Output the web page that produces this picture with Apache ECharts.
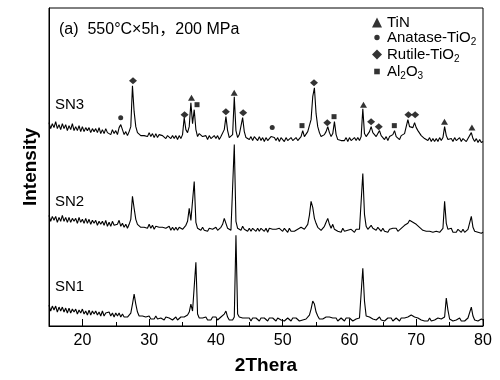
<!DOCTYPE html>
<html><head><meta charset="utf-8">
<script src="https://cdn.jsdelivr.net/npm/echarts@6/dist/echarts.min.js"></script>
<style>html,body{margin:0;padding:0;background:#fff}#c{width:500px;height:380px}</style>
</head><body><div id="c"></div>
<script>
// 2-theta scan grid: 15..80 deg, step 0.25
const START = 15, STEP = 0.25;
// Intensities (a.u., traces already stacked with their offsets)
const sn3 = [
204,198,203,199, 205,198,202,197, 203,198,202,196, 201,197,203,196, 200,196,201,195,
200,195,199,196, 199,194,198,195, 198,194,199,193, 197,193,198,194, 196,192,197,193,
196,192,199,202, 197,192,195,191, 195,200,241,215, 200,194,194,191, 193,191,193,190,
194,190,193,189, 193,189,192,190, 191,190,188,191, 192,188,191,188, 191,187,191,188,
192,209,197,194, 200,224,203,217, 197,190,193,194, 190,188,191,187, 191,188,189,191,
188,191,187,190, 192,197,210,196, 189,188,192,230, 196,189,192,194, 209,195,189,190,
187,190,186,190, 189,186,190,186, 189,185,189,186, 186,190,192,189, 186,189,185,189,
188,185,189,186, 185,189,186,185, 189,186,188,190, 196,190,191,195, 197,207,230,239,
213,200,194,190, 191,192,195,200, 194,190,193,205, 192,187,188,186, 188,186,189,185,
189,186,185,189, 186,189,186,190, 218,193,190,192, 195,200,194,192, 190,193,196,191,
189,187,190,186, 190,188,192,196, 190,188,187,191, 190,193,195,207, 200,201,199,204,
199,196,194,191, 190,188,189,186, 189,185,188,185, 188,185,189,186, 189,200,191,187,
185,188,185,189, 186,185,189,185, 188,189,185,188, 187,194,188,185, 188,184,187,184,
185];
const sn2 = [
111,105,110,106, 110,104,109,105, 111,105,109,104, 109,104,108,105, 108,103,109,104,
107,103,108,103, 107,102,106,103, 106,101,105,102, 105,101,106,100, 104,100,105,101,
103,102,106,100, 103,99,102,98, 102,107,130,118, 107,102,101,99, 101,99,100,98,
102,98,101,97, 100,98,99,98, 99,97,98,96, 100,96,99,96, 99,96,99,97,
97,99,101,105, 118,106,104,145, 104,98,99,96, 99,96,98,95, 98,96,97,95,
99,96,98,99, 102,108,103,98, 97,96,98,182, 105,98,99,96, 100,97,98,95,
98,95,98,96, 95,98,95,98, 97,95,98,94, 98,96,97,95, 97,95,98,96,
95,98,96,94, 98,95,97,95, 94,97,96,99, 101,97,98,102, 111,125,119,108,
103,99,98,96, 98,100,104,108, 102,98,102,97, 98,95,96,94, 98,95,97,96,
94,97,96,94, 97,95,97,96, 153,112,100,97, 99,101,98,99, 96,99,97,95,
98,95,96,94, 97,95,98,96, 98,95,97,98, 99,101,101,103, 106,107,104,105,
102,101,99,98, 96,98,95,97, 95,97,94,96, 95,97,94,96, 98,125,103,97,
95,98,94,96, 94,97,95,94, 97,94,96,97, 98,110,99,95, 96,94,95,93,
94];
const sn1 = [
21,15,20,16, 20,14,19,15, 19,14,18,13, 18,13,17,14, 17,12,16,13,
17,12,15,11, 16,11,15,12, 15,11,14,10, 15,10,13,11, 14,10,13,9,
13,10,13,9, 12,9,11,9, 11,13,22,32, 22,14,10,9, 10,8,9,7,
10,7,9,7, 10,7,9,8, 9,6,9,7, 8,9,6,8, 9,6,8,9,
7,9,10,11, 14,22,15,13, 64,12,8,9, 8,6,9,6, 8,6,9,7,
9,6,8,9, 10,12,15,9, 6,8,6,9, 91,12,9,7, 8,6,8,6,
8,5,8,6, 8,6,5,8, 6,8,6,5, 8,6,8,6, 5,8,7,6,
8,5,7,8, 6,5,8,6, 8,6,5,7, 6,8,7,9, 11,17,25,22,
14,10,7,8, 7,8,9,11, 9,7,8,6, 8,5,7,8, 6,5,8,6,
8,6,5,7, 7,5,8,9, 58,25,10,8, 9,10,7,8, 6,8,9,6,
8,5,7,8, 6,8,5,7, 8,6,5,8, 6,8,8,9, 10,11,10,9,
10,8,9,6, 8,5,7,5, 8,5,7,6, 5,8,6,7, 8,9,28,16,
7,8,5,7, 6,5,8,5, 7,5,7,8, 9,19,10,6, 7,5,6,7,
6];
// phase marks [2theta, height]
const tinMarks = [[36.34,229],[42.74,234],[62.1,222],[74.23,205],[78.34,199]];
const anataseMarks = [[25.74,209],[48.43,199]];
const rutileMarks = [[27.58,246],[35.3,212],[41.49,215],[44.08,214],[54.69,244],[56.68,204],[63.24,205],[64.39,200],[68.83,212],[69.84,212]];
const aluminaMarks = [[37.17,222],[52.89,201],[57.69,210],[66.72,201]];
const majorTicks = [20,30,40,50,60,70,80];
const minorTicks = [25,35,45,55,65,75];

const FONT = '"Liberation Sans", Arial, "Noto Sans CJK SC", sans-serif';
const toPairs = arr => arr.map((v, i) => [START + i * STEP, v]);
const lineSeries = (name, arr) => ({
  name, type: 'line', data: toPairs(arr), showSymbol: false, symbol: 'none',
  lineStyle: { color: '#000', width: 1.1 }, silent: true, z: 2
});
const markSeries = (name, data, symbol, size) => ({
  name, type: 'scatter', data, symbol, symbolSize: size,
  itemStyle: { color: '#000' }, silent: true, z: 3
});
const legendText = {
  'TiN': '{m|TiN}',
  'Anatase-TiO2': '{m|Anatase-TiO}{s|2}',
  'Rutile-TiO2': '{m|Rutile-TiO}{s|2}',
  'Al2O3': '{m|Al}{s|2}{m|O}{s|3}'
};

const chart = echarts.init(document.getElementById('c'), null, { renderer: 'canvas' });
chart.setOption({
  animation: false,
  backgroundColor: '#fff',
  title: {
    text: '(a)  550°C×5h，200 MPa', left: 59, top: 22, padding: 0,
    textStyle: { fontSize: 16, fontWeight: 'normal', color: '#000', fontFamily: FONT }
  },
  legend: {
    orient: 'vertical', left: 372, top: 15, padding: 0, itemGap: 0,
    itemWidth: 10, itemHeight: 10, selectedMode: false,
    data: [
      { name: 'TiN', icon: 'triangle' },
      { name: 'Anatase-TiO2', icon: 'path://M0,0M10,10M2.3,5A2.7,2.7,0,1,0,7.7,5A2.7,2.7,0,1,0,2.3,5Z' },
      { name: 'Rutile-TiO2', icon: 'diamond' },
      { name: 'Al2O3', icon: 'path://M0,0M10,10M2.2,2.2L7.8,2.2L7.8,7.8L2.2,7.8Z' }
    ],
    formatter: n => legendText[n],
    textStyle: {
      color: '#000', fontFamily: FONT,
      rich: {
        m: { fontSize: 15, lineHeight: 19, color: '#000', fontFamily: FONT },
        s: { fontSize: 10, lineHeight: 8, verticalAlign: 'bottom', color: '#000', fontFamily: FONT }
      }
    }
  },
  grid: { left: 49, right: 17, top: 8, bottom: 53, show: true, borderColor: '#000', borderWidth: 1, backgroundColor: 'transparent' },
  xAxis: [{
    type: 'value', min: 15, max: 80, position: 'bottom',
    axisLine: { show: true, lineStyle: { color: '#000', width: 1 } },
    axisTick: { show: true, inside: true, length: 7, customValues: majorTicks, lineStyle: { color: '#000' } },
    axisLabel: { customValues: majorTicks, fontSize: 16, color: '#000', margin: 7, fontFamily: FONT },
    splitLine: { show: false },
    name: '2Thera', nameLocation: 'middle', nameGap: 30,
    nameTextStyle: { fontSize: 19, fontWeight: 'bold', color: '#000', fontFamily: FONT }
  }, {
    type: 'value', min: 15, max: 80, position: 'bottom',
    axisLine: { show: false },
    axisTick: { show: true, inside: true, length: 4, customValues: minorTicks, lineStyle: { color: '#000' } },
    axisLabel: { show: false }, splitLine: { show: false }
  }],
  yAxis: {
    type: 'value', min: 0, max: 319,
    axisLine: { show: true, lineStyle: { color: '#000', width: 1 } },
    axisTick: { show: false }, axisLabel: { show: false }, splitLine: { show: false },
    name: 'Intensity', nameLocation: 'middle', nameGap: 9, nameRotate: 90,
    nameTextStyle: { fontSize: 19, fontWeight: 'bold', color: '#000', fontFamily: FONT }
  },
  graphic: [
    { type: 'text', left: 55, top: 97, style: { text: 'SN3', font: '15px ' + FONT, fill: '#000' } },
    { type: 'text', left: 55, top: 194, style: { text: 'SN2', font: '15px ' + FONT, fill: '#000' } },
    { type: 'text', left: 55, top: 279, style: { text: 'SN1', font: '15px ' + FONT, fill: '#000' } }
  ],
  series: [
    lineSeries('SN3', sn3),
    lineSeries('SN2', sn2),
    lineSeries('SN1', sn1),
    markSeries('TiN', tinMarks, 'triangle', [7, 6]),
    markSeries('Anatase-TiO2', anataseMarks, 'circle', 5),
    markSeries('Rutile-TiO2', rutileMarks, 'diamond', [8, 7]),
    markSeries('Al2O3', aluminaMarks, 'rect', 5)
  ]
});
</script></body></html>
